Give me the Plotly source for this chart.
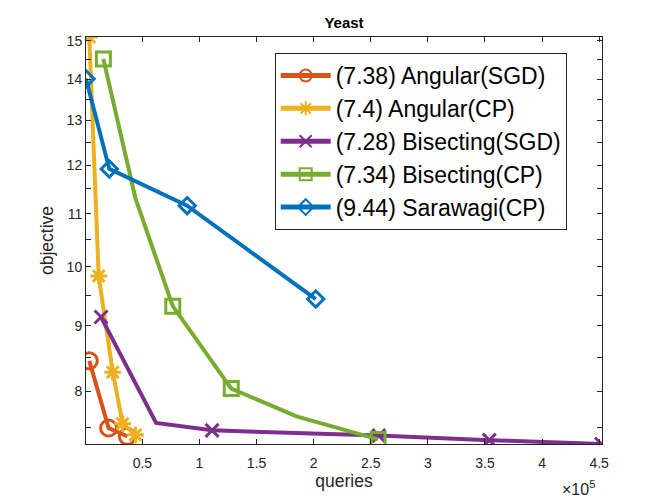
import plotly.graph_objects as go

# Angular(SGD)
ang_sgd_x = [3500, 20400, 36800]
ang_sgd_y = [8.45, 7.49, 7.38]
ang_sgd_mark = [1, 1, 1]

# Angular(CP)
ang_cp_x = [3500, 11700, 24000, 32700, 43900]
ang_cp_y = [15.1, 9.84, 8.28, 7.55, 7.40]
ang_cp_mark = [1, 1, 1, 1, 1]

# Bisecting(SGD)
bis_sgd_x = [13800, 62000, 111000, 257000, 353800, 452000]
bis_sgd_y = [9.14, 7.56, 7.46, 7.39, 7.33, 7.28]
bis_sgd_mark = [1, 0, 1, 1, 1, 1]

# Bisecting(CP)
bis_cp_x = [15800, 44000, 76600, 127800, 185000, 256400]
bis_cp_y = [14.52, 11.3, 9.32, 8.04, 7.65, 7.34]
bis_cp_mark = [1, 0, 1, 1, 0, 1]

# Sarawagi(CP)
sar_cp_x = [600, 21000, 89200, 201800]
sar_cp_y = [14.01, 11.92, 11.16, 9.44]
sar_cp_mark = [1, 1, 1, 1]

series_names = ["(7.38) Angular(SGD)", "(7.4) Angular(CP)", "(7.28) Bisecting(SGD)",
                "(7.34) Bisecting(CP)", "(9.44) Sarawagi(CP)"]

x_tick_vals = [50000, 100000, 150000, 200000, 250000, 300000, 350000, 400000, 450000]
x_tick_text = ["0.5", "1", "1.5", "2", "2.5", "3", "3.5", "4", "4.5"]
y_tick_vals = [7.5, 8, 8.5, 9, 9.5, 10, 10.5, 11, 11.5, 12, 12.5, 13, 13.5, 14, 14.5, 15]
y_tick_text = ["", "8", "", "9", "", "10", "", "11", "", "12", "", "13", "", "14", "", "15"]

styles = [
    ("#D95319", "circle-open", 16),
    ("#EDB120", "asterisk-open", 14),
    ("#7E2F8E", "x-thin-open", 13),
    ("#77AC30", "square-open", 14),
    ("#0072BD", "diamond-open", 12.5),
]
data = [
    (ang_sgd_x, ang_sgd_y, ang_sgd_mark),
    (ang_cp_x, ang_cp_y, ang_cp_mark),
    (bis_sgd_x, bis_sgd_y, bis_sgd_mark),
    (bis_cp_x, bis_cp_y, bis_cp_mark),
    (sar_cp_x, sar_cp_y, sar_cp_mark),
]

fig = go.Figure()

for (xs, ys, mk), (color, symbol, size), name in zip(data, styles, series_names):
    # full line through every vertex
    fig.add_trace(go.Scatter(
        x=xs, y=ys, mode='lines', showlegend=False, hoverinfo='skip',
        line=dict(color=color, width=4)
    ))
    # markers only where MATLAB drew them
    fig.add_trace(go.Scatter(
        x=[x for x, m in zip(xs, mk) if m],
        y=[y for y, m in zip(ys, mk) if m],
        mode='markers', showlegend=False,
        marker=dict(symbol=symbol, size=size, color=color,
                    line=dict(color=color, width=3))
    ))
    # legend entry
    fig.add_trace(go.Scatter(
        x=[None], y=[None], mode='lines+markers', name=name,
        line=dict(color=color, width=4),
        marker=dict(symbol=symbol, size=11, color=color,
                    line=dict(color=color, width=3))
    ))

axis_common = dict(
    showline=True, linecolor='#262626', linewidth=1, mirror='ticks',
    ticks='inside', ticklen=5, tickcolor='#262626', showgrid=False,
    zeroline=False, tickfont=dict(size=14, color='#262626'),
)

# page body has an 8px margin, so the figure is a bit smaller than the window
fig.update_layout(
    width=656, height=490,
    margin=dict(l=78, r=62, t=29, b=54),
    paper_bgcolor='white', plot_bgcolor='white',
    font=dict(family='Liberation Sans, Arial, sans-serif', color='#262626'),
    title=dict(text='<b>Yeast</b>', x=0.5, xref='paper', y=0.969, yanchor='middle',
               font=dict(size=15, color='black')),
    xaxis=dict(range=[600, 452500], tickvals=x_tick_vals, ticktext=x_tick_text,
               ticklabelstandoff=6,
               title=dict(text='queries', font=dict(size=17.5), standoff=2),
               **axis_common),
    yaxis=dict(type='log', range=[0.8621, 1.1790], tickvals=y_tick_vals, ticktext=y_tick_text,
               ticklabelstandoff=0,
               title=dict(text='objective', font=dict(size=17.5), standoff=8),
               **axis_common),
    legend=dict(x=0.3657, y=0.9607, xanchor='left', yanchor='top',
                bgcolor='white', bordercolor='#262626', borderwidth=1,
                font=dict(size=23, color='black'), itemsizing='constant',
                itemwidth=50, tracegroupgap=0),
    annotations=[dict(text='×10<sup>5</sup>', x=0.990, y=-0.108, xref='paper', yref='paper',
                      xanchor='right', yanchor='middle', showarrow=False,
                      font=dict(size=16, color='#262626'))],
)

fig.write_html("out.html")
